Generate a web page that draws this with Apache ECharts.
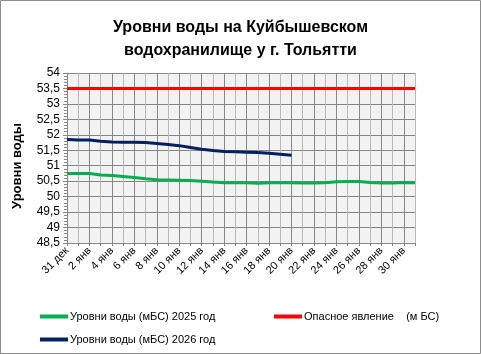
<!DOCTYPE html>
<html>
<head>
<meta charset="utf-8">
<script src="https://cdn.jsdelivr.net/npm/echarts@6/dist/echarts.min.js"></script>
<style>
  html, body { margin: 0; padding: 0; background: #fff; }
  #main { width: 481px; height: 354px; }
</style>
</head>
<body>
<div id="main"></div>
<script>
// даты по оси X
var categories = ['31 дек', '1 янв', '2 янв', '3 янв', '4 янв', '5 янв', '6 янв', '7 янв',
	'8 янв', '9 янв', '10 янв', '11 янв', '12 янв', '13 янв', '14 янв', '15 янв',
	'16 янв', '17 янв', '18 янв', '19 янв', '20 янв', '21 янв', '22 янв', '23 янв',
	'24 янв', '25 янв', '26 янв', '27 янв', '28 янв', '29 янв', '30 янв', '31 янв'];

// уровни воды 2025 год (мБС)
var level2025 = [50.75, 50.75, 50.75, 50.70, 50.68, 50.65, 50.62, 50.58,
	50.55, 50.54, 50.53, 50.52, 50.50, 50.47, 50.45, 50.45,
	50.45, 50.43, 50.45, 50.45, 50.45, 50.44, 50.44, 50.45,
	50.48, 50.49, 50.49, 50.46, 50.44, 50.44, 50.46, 50.45];

// уровни воды 2026 год (мБС)
var level2026 = [51.85, 51.83, 51.83, 51.79, 51.77, 51.76, 51.76, 51.75,
	51.72, 51.69, 51.65, 51.59, 51.53, 51.49, 51.46, 51.45,
	51.44, 51.43, 51.40, 51.37, 51.34];

// опасное явление
var dangerLevel = [53.5, 53.5, 53.5, 53.5, 53.5, 53.5, 53.5, 53.5,
	53.5, 53.5, 53.5, 53.5, 53.5, 53.5, 53.5, 53.5,
	53.5, 53.5, 53.5, 53.5, 53.5, 53.5, 53.5, 53.5,
	53.5, 53.5, 53.5, 53.5, 53.5, 53.5, 53.5, 53.5];

var names = ['Уровни воды (мБС) 2025 год', 'Опасное явление    (м БС)', 'Уровни воды (мБС) 2026 год'];

var font = 'Liberation Sans';
var myChart = echarts.init(document.getElementById('main'));

function legendAt(name, left, top) {
	return {
		data: [name],
		left: left,
		top: top,
		icon: 'rect',
		itemWidth: 28,
		itemHeight: 4,
		itemGap: 0,
		textStyle: { fontFamily: font, fontSize: 11, color: '#000', padding: [0, 0, 0, -3] }
	};
}

var option = {
	animation: false,
	backgroundColor: '#fff',
	textStyle: { fontFamily: font },
	title: {
		text: 'Уровни воды на Куйбышевском\nводохранилище у г. Тольятти',
		left: 'center',
		top: 11,
		textStyle: { fontFamily: font, fontSize: 16, fontWeight: 'bold', color: '#000', lineHeight: 23 }
	},
	graphic: [{
		type: 'rect',
		shape: { x: 0.5, y: 0.5, width: 480, height: 353 },
		style: { fill: 'none', stroke: '#8c8c8c', lineWidth: 1 },
		silent: true
	}],
	legend: [
		legendAt(names[0], 35, 306),
		legendAt(names[1], 269, 306),
		legendAt(names[2], 35, 329)
	],
	grid: {
		left: 67, right: 66, top: 73, bottom: 111,
		show: true, backgroundColor: '#f2f2f2', borderWidth: 0
	},
	xAxis: {
		type: 'category',
		data: categories,
		boundaryGap: false,
		axisLine: { lineStyle: { color: '#868686', width: 1 } },
		axisTick: { show: true, interval: 0, length: 3, lineStyle: { color: '#868686' } },
		axisLabel: { interval: 1, rotate: 45, fontFamily: font, fontSize: 11, color: '#000', margin: 6 },
		splitLine: { show: true, interval: 0, lineStyle: { color: ['#868686', '#b9b9b9'], width: 1 } }
	},
	yAxis: {
		type: 'value',
		min: 48.5,
		max: 54,
		interval: 0.5,
		name: 'Уровни воды',
		nameLocation: 'middle',
		nameGap: 43,
		nameTextStyle: { fontFamily: font, fontSize: 13, fontWeight: 'bold', color: '#000', padding: [0, 16, 0, 0] },
		axisLine: { show: true, lineStyle: { color: '#868686', width: 1 } },
		axisTick: { show: true, length: 4, lineStyle: { color: '#868686' } },
		minorTick: { show: true, splitNumber: 5, length: 3, lineStyle: { color: '#868686' } },
		axisLabel: {
			fontFamily: font, fontSize: 12, color: '#000', margin: 7,
			formatter: function (v) { return String(v).replace('.', ','); }
		},
		splitLine: { show: true, lineStyle: { color: '#868686', width: 1 } }
	},
	series: [
		{
			name: names[0], type: 'line', data: level2025,
			showSymbol: false, symbol: 'none',
			lineStyle: { color: '#00b050', width: 3 }, itemStyle: { color: '#00b050' }
		},
		{
			name: names[1], type: 'line', data: dangerLevel,
			showSymbol: false, symbol: 'none',
			lineStyle: { color: '#ff0000', width: 3 }, itemStyle: { color: '#ff0000' }
		},
		{
			name: names[2], type: 'line', data: level2026,
			showSymbol: false, symbol: 'none',
			lineStyle: { color: '#002060', width: 3 }, itemStyle: { color: '#002060' }
		}
	]
};
myChart.setOption(option);
</script>
</body>
</html>
